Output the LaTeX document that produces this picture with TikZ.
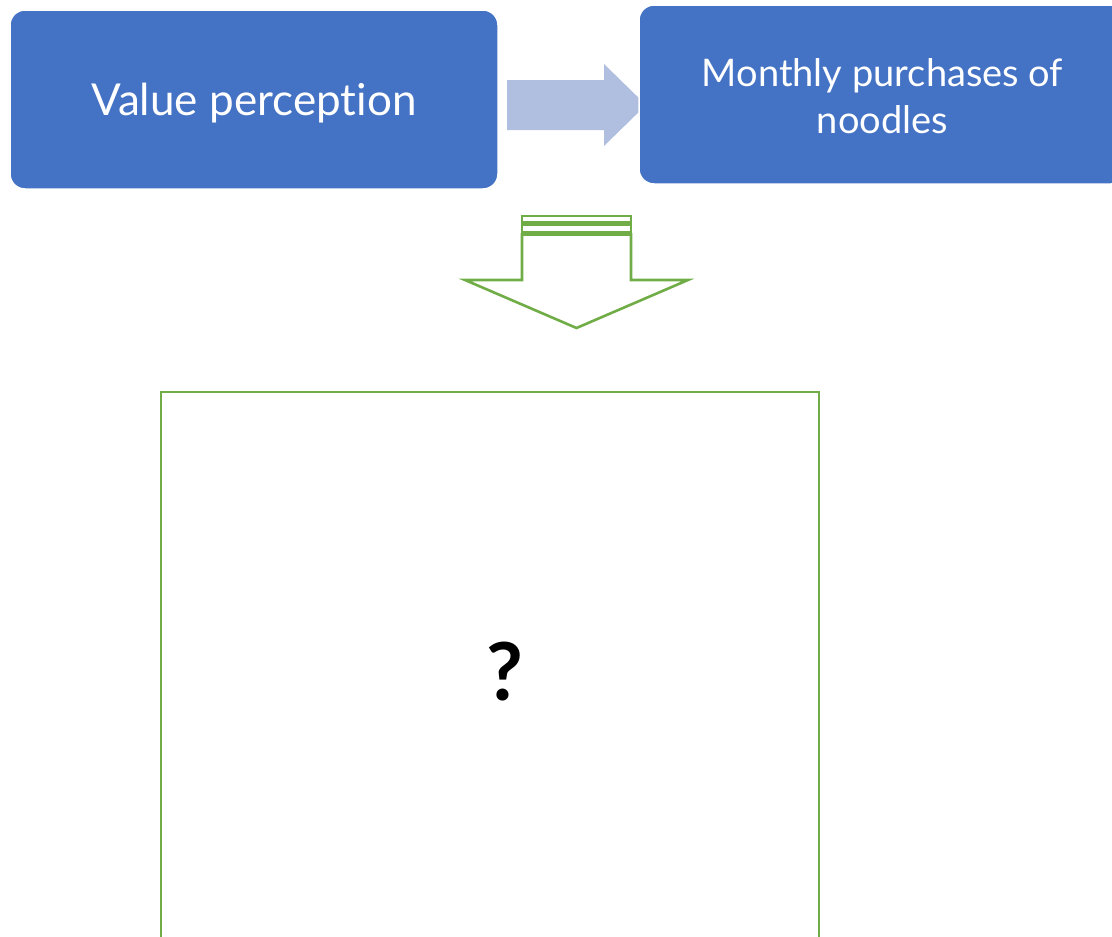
\documentclass[tikz,border=0pt]{standalone}
\usepackage{fontspec}
\setmainfont[Ligatures=NoCommon]{Lato}
\definecolor{boxblue}{HTML}{4472C4}
\definecolor{arrowblue}{HTML}{B0BEE0}
\definecolor{leafgreen}{HTML}{70AD47}
\tikzset{
  bluebox/.style={fill=boxblue, draw=white, line width=1.5pt, rounded corners=15pt,
    text=white, align=center, inner sep=0pt},
  greenline/.style={draw=leafgreen, line width=2.6pt, line join=miter},
}
\begin{document}
\begin{tikzpicture}[x=1pt, y=-1pt]
  \useasboundingbox (0,0) rectangle (1112,937);
  \clip (0,0) rectangle (1112,937);

  % block arrow between the two top boxes
  \fill[arrowblue] (507,80) -- (604,80) -- (604,64) -- (646,105)
        -- (604,146) -- (604,130) -- (507,130) -- cycle;

  % top boxes
  \node[bluebox, minimum width=488pt, minimum height=179pt] (value) at (254,99.5) {};
  \node[text=white, inner sep=0pt, font=\fontsize{44}{50}\selectfont]
    (valuetxt) at (254,103) {Value perception};
  \node[bluebox, minimum width=487pt, minimum height=179pt] (monthly) at (882.5,94.5) {};
  \node[text=white, align=center, inner sep=0pt,
        font=\fontsize{38}{47}\selectfont] (monthlytxt) at (882.5,96)
    {Monthly purchases of\\ noodles};

  % striped down arrow
  \draw[greenline] (522,216) rectangle (631,222);
  \draw[greenline] (522,224.5) rectangle (631,232.5);
  \draw[greenline] (522,234.5) -- (631,234.5) -- (631,280) -- (688,280)
        -- (576.5,328) -- (465,280) -- (522,280) -- cycle;

  % open result box
  \draw[greenline] (161,1000) -- (161,392) -- (819,392) -- (819,1000);
  \node[font=\bfseries\fontsize{80}{90}\selectfont, inner sep=0pt] (unknown) at (505,672) {?};
\end{tikzpicture}
\end{document}
